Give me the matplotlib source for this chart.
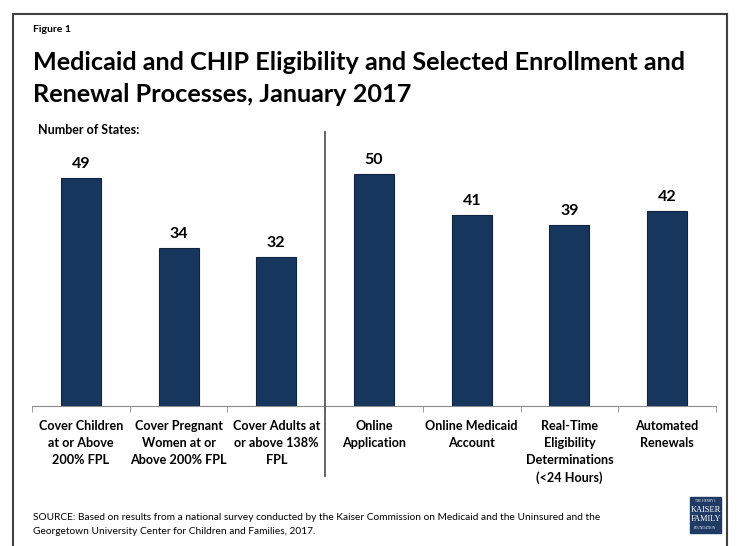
import matplotlib.pyplot as plt
from matplotlib.patches import Rectangle
from matplotlib.lines import Line2D

plt.rcParams['font.family'] = ['Lato', 'DejaVu Sans']

categories = [
    "Cover Children\nat or Above\n200% FPL",
    "Cover Pregnant\nWomen at or\nAbove 200% FPL",
    "Cover Adults at\nor above 138%\nFPL",
    "Online\nApplication",
    "Online Medicaid\nAccount",
    "Real-Time\nEligibility\nDeterminations\n(<24 Hours)",
    "Automated\nRenewals",
]
states = [49, 34, 32, 50, 41, 39, 42]

W, H = 737, 546
navy = "#17365D"

fig = plt.figure(figsize=(W / 100, H / 100), dpi=100)

# outer frame
fig.add_artist(Rectangle((13 / W, -0.02), (727 - 13) / W, 1 - 14 / H + 0.02,
                         transform=fig.transFigure, fill=False,
                         edgecolor="#404040", linewidth=1.5))

fig.text(33 / W, 1 - 29 / H, "Figure 1", fontsize=7.5, fontweight="bold", va="center")
fig.text(33 / W, 1 - 62 / H, "Medicaid and CHIP Eligibility and Selected Enrollment and",
         fontsize=18.2, fontweight="bold", va="center")
fig.text(33 / W, 1 - 95 / H, "Renewal Processes, January 2017",
         fontsize=18.2, fontweight="bold", va="center")
fig.text(38 / W, 1 - 130 / H, "Number of States:", fontsize=9, fontweight="bold", va="center")

ax = fig.add_axes([32 / W, 1 - 406 / H, (716 - 32) / W, (406 - 127) / H])
x = range(len(categories))
bars = ax.bar(x, states, width=0.41, color=navy, edgecolor="#0f2440", linewidth=0.8)
for b, v in zip(bars, states):
    ax.text(b.get_x() + b.get_width() / 2, v + 1.5, str(v), ha="center", va="bottom",
            fontsize=11.5, fontweight="bold")

ax.set_xlim(-0.5, len(categories) - 0.5)
ax.set_ylim(0, 60)
for s in ["top", "right", "left"]:
    ax.spines[s].set_visible(False)
ax.spines["bottom"].set_color("#8c8c8c")
ax.set_yticks([])
ax.set_xticks(list(x))
ax.set_xticklabels(categories, fontsize=9.1, fontweight="bold", linespacing=1.5, va="top")
ax.tick_params(axis="x", which="major", length=0, pad=10)
ax.set_xticks([i - 0.5 for i in range(len(categories) + 1)], minor=True)
ax.tick_params(axis="x", which="minor", length=4, color="#8c8c8c", direction="out")

# divider between eligibility and process groups
fig.add_artist(Line2D([325 / W, 325 / W], [1 - 132 / H, 1 - 476 / H],
                      transform=fig.transFigure, color="#595959", linewidth=1.3))

fig.text(33 / W, 1 - 517 / H,
         "SOURCE: Based on results from a national survey conducted by the Kaiser Commission on Medicaid and the Uninsured and the",
         fontsize=7.3, va="center")
fig.text(33 / W, 1 - 532 / H,
         "Georgetown University Center for Children and Families, 2017.",
         fontsize=7.3, va="center")

# foundation logo
fig.add_artist(Rectangle((690 / W, 1 - 533 / H), 31 / W, 36 / H,
                         transform=fig.transFigure, color="#1F3A64"))
fig.text(705.5 / W, 1 - 501 / H, "THE HENRY J.", fontsize=2.3, color="white",
         ha="center", va="center", family="Liberation Serif")
fig.text(705.5 / W, 1 - 510 / H, "KAISER", fontsize=6, color="white",
         ha="center", va="center", family="Liberation Serif")
fig.text(705.5 / W, 1 - 519 / H, "FAMILY", fontsize=6, color="white",
         ha="center", va="center", family="Liberation Serif")
fig.text(705.5 / W, 1 - 528 / H, "FOUNDATION", fontsize=2.5, color="white",
         ha="center", va="center", family="Liberation Serif")

fig.savefig("out.png", dpi=100)
